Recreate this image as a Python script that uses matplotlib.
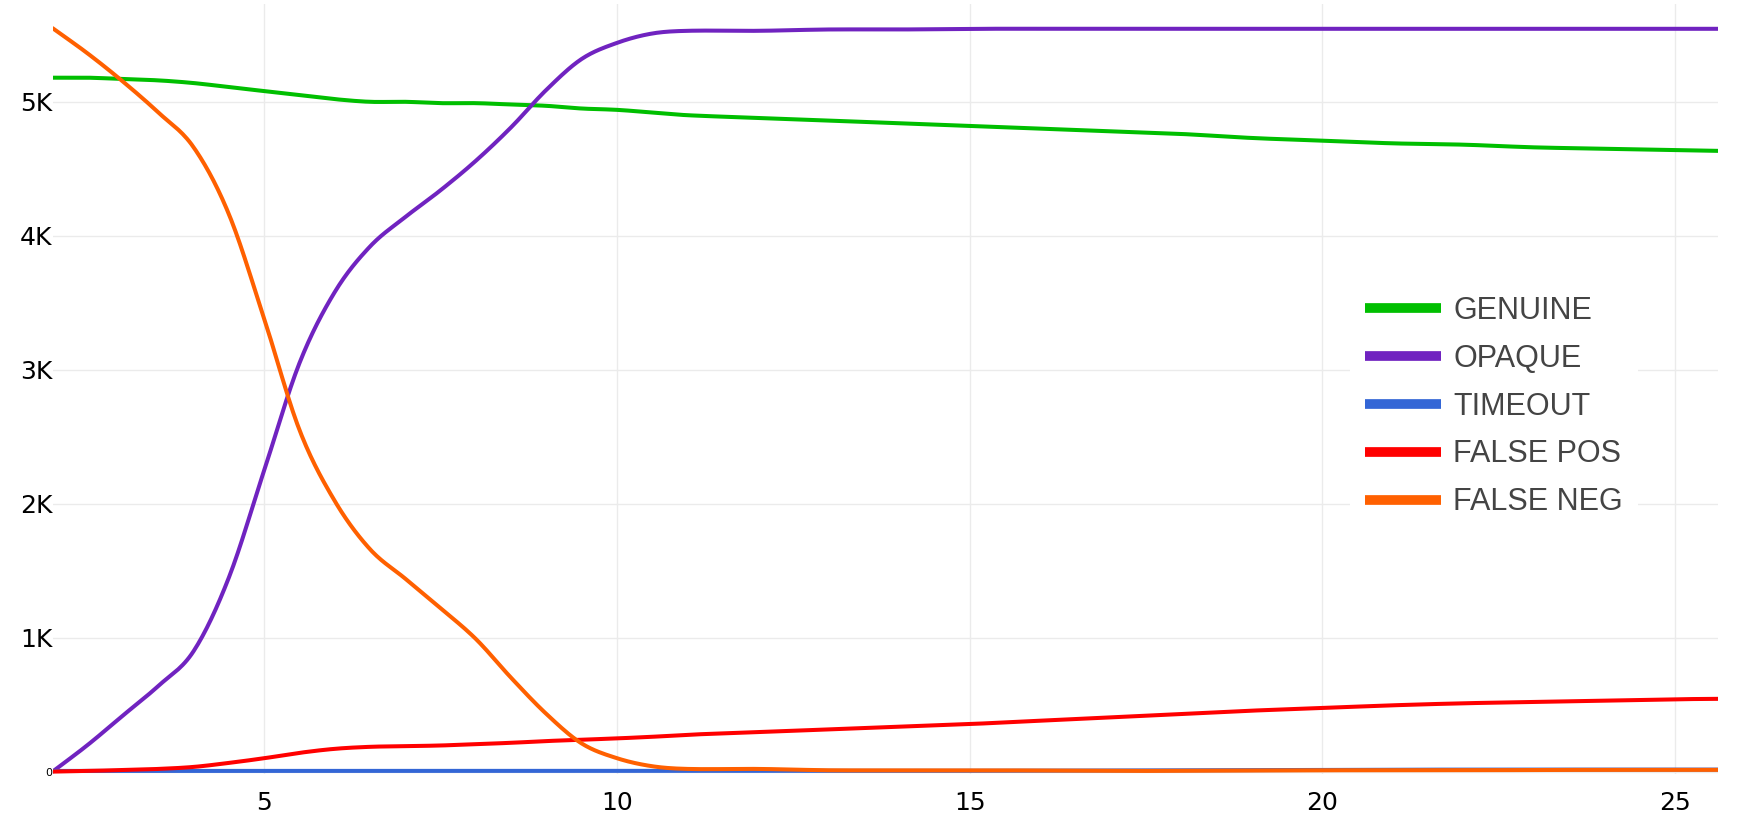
import matplotlib
matplotlib.use('Agg')
import matplotlib.pyplot as plt
import numpy as np

# x positions, counts in thousands
x = [2, 2.5, 3, 3.5, 4, 4.5, 5, 5.5, 6, 6.5, 7, 7.5, 8, 8.5, 9, 9.5, 10, 10.5, 11,
     12, 13, 14, 15, 16, 17, 18, 19, 20, 21, 22, 23, 24, 25, 26]

genuine = [5.18, 5.18, 5.17, 5.16, 5.14, 5.11, 5.08, 5.05, 5.02, 5.00, 5.00, 4.99, 4.99, 4.98, 4.97, 4.95, 4.94, 4.92, 4.90,
           4.88, 4.86, 4.84, 4.82, 4.80, 4.78, 4.76, 4.73, 4.71, 4.69, 4.68, 4.66, 4.65, 4.64, 4.63]
opaque = [0.0, 0.20, 0.42, 0.64, 0.90, 1.45, 2.25, 3.05, 3.58, 3.92, 4.14, 4.34, 4.56, 4.81, 5.09, 5.32, 5.44, 5.51, 5.53,
          5.53, 5.54, 5.54, 5.545, 5.545, 5.545, 5.545, 5.545, 5.545, 5.545, 5.545, 5.545, 5.545, 5.545, 5.545]
timeout = [0.005] * 21 + [0.006, 0.006, 0.007, 0.008, 0.009, 0.01, 0.012, 0.014, 0.015, 0.015, 0.015, 0.015, 0.015]
false_pos = [0.0, 0.005, 0.012, 0.02, 0.035, 0.065, 0.10, 0.14, 0.17, 0.185, 0.19, 0.195, 0.205, 0.215, 0.228, 0.238, 0.248, 0.26, 0.275,
             0.295, 0.315, 0.335, 0.355, 0.38, 0.405, 0.43, 0.455, 0.475, 0.495, 0.51, 0.52, 0.53, 0.54, 0.545]
false_neg = [5.55, 5.36, 5.15, 4.92, 4.66, 4.16, 3.38, 2.55, 2.02, 1.66, 1.44, 1.22, 0.99, 0.70, 0.43, 0.21, 0.10, 0.04, 0.02,
             0.02, 0.01, 0.01, 0.01, 0.008, 0.005, 0.006, 0.008, 0.01, 0.01, 0.01, 0.012, 0.013, 0.013, 0.013]

series = ['GENUINE', 'OPAQUE', 'TIMEOUT', 'FALSE POS', 'FALSE NEG']
colors = ['#00bf00', '#7023c0', '#3366d6', '#ff0000', '#ff6000']
yticks = [0, 1, 2, 3, 4, 5]
ytick_labels = ['0', '1K', '2K', '3K', '4K', '5K']
xticks = [5, 10, 15, 20, 25]


def spline_path(xs, ys, n=16):
    # hermite curve through the points (line shape only)
    xs = np.asarray(xs, float)
    ys = np.asarray(ys, float)
    px = np.concatenate([[2 * xs[0] - xs[1]], xs, [2 * xs[-1] - xs[-2]]])
    py = np.concatenate([[2 * ys[0] - ys[1]], ys, [2 * ys[-1] - ys[-2]]])
    outx, outy = [], []
    t = np.linspace(0, 1, n, endpoint=False)
    for i in range(1, len(px) - 2):
        x0, x1, x2, x3 = px[i - 1:i + 3]
        y0, y1, y2, y3 = py[i - 1:i + 3]
        h = x2 - x1
        my1 = (y2 - y0) / (x2 - x0) * h
        my2 = (y3 - y1) / (x3 - x1) * h
        h00 = 2 * t**3 - 3 * t**2 + 1
        h10 = t**3 - 2 * t**2 + t
        h01 = -2 * t**3 + 3 * t**2
        h11 = t**3 - t**2
        outx.extend(x1 + t * h)
        outy.extend(h00 * y1 + h10 * my1 + h01 * y2 + h11 * my2)
    outx.append(xs[-1])
    outy.append(ys[-1])
    return np.array(outx), np.array(outy)


fig = plt.figure(figsize=(17.58, 8.21), dpi=100)
ax = fig.add_axes([0.0299, 0.0569, 0.9471, 0.9382])

for name, vals, c in zip(series, [genuine, opaque, timeout, false_pos, false_neg], colors):
    sx, sy = spline_path(x, vals)
    ax.plot(sx, sy * 1000, color=c, lw=2.9, label=name,
            solid_capstyle='round', solid_joinstyle='round')

ax.set_xlim(2, 25.6)
ax.set_ylim(-20, 5730)
for s in ax.spines.values():
    s.set_visible(False)
ax.grid(True, color='#ebebeb', lw=1)
ax.set_axisbelow(True)
ax.tick_params(length=0)

ax.set_xticks(xticks)
ax.set_xticklabels([str(t) for t in xticks], fontsize=18, family='DejaVu Sans')
ax.tick_params(axis='x', pad=12)
ax.set_yticks([t * 1000 for t in yticks])
ax.set_yticklabels(ytick_labels, fontsize=18, family='DejaVu Sans')
ax.get_yticklabels()[0].set_fontsize(8)
ax.tick_params(axis='y', pad=0)

leg = ax.legend(loc='upper left', bbox_to_anchor=(0.779, 0.641), frameon=True,
                prop={'family': 'Liberation Sans', 'size': 22}, handlelength=2.5,
                handletextpad=0.4, labelspacing=0.585, borderpad=0.5,
                borderaxespad=0)
leg.get_frame().set_facecolor('white')
leg.get_frame().set_edgecolor('none')
leg.get_frame().set_alpha(1)
for h in leg.get_lines():
    h.set_linewidth(7)
    h.set_solid_capstyle('butt')
for t in leg.get_texts():
    t.set_color('#444444')

fig.savefig('out.png', dpi=100)
